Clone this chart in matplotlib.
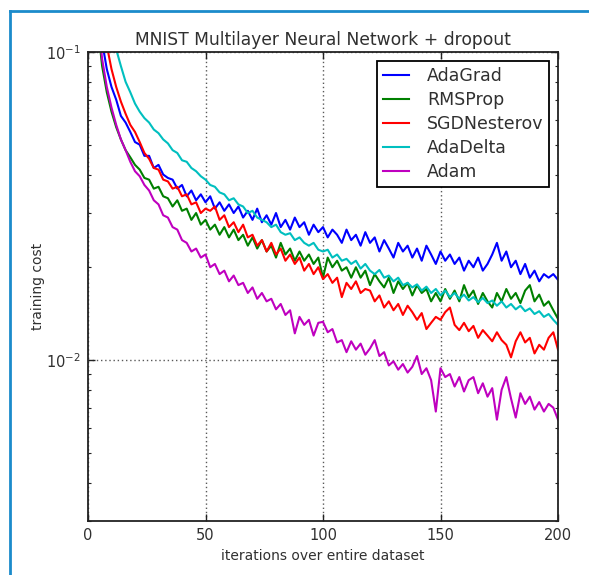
import numpy as np
import matplotlib
matplotlib.use("Agg")
import matplotlib.pyplot as plt
from matplotlib.lines import Line2D
from matplotlib.ticker import NullFormatter, LogLocator

# training cost per iteration (x 1e-3), read every 2nd iteration from 2 to 200
adagrad = [260, 150, 108, 88, 77, 70, 62, 59, 55, 51,
           50, 46, 46, 42, 43, 40, 39, 38.5, 36, 37,
           34, 35.5, 33, 34.5, 32.5, 34, 31, 32.5, 30.5, 32,
           30, 31.5, 29, 30.5, 28.5, 31, 28, 29.5, 27.5, 30,
           27, 28.5, 26.5, 29, 27, 28, 25.5, 27.5, 26, 27,
           25, 26.5, 25.5, 24, 26.5, 24.5, 25.5, 23.5, 26, 24,
           25, 22.5, 24.5, 23, 21.5, 24, 22.5, 23.5, 21.5, 23,
           21, 23.5, 22, 20.5, 22.5, 21, 22, 20.5, 21.5, 19.5,
           21, 20, 21.5, 19.5, 20.5, 22, 24, 21, 22.5, 20,
           21, 19, 20.5, 18.5, 19.5, 18, 19, 18.5, 19, 18.2]
rmsprop = [230, 125, 90, 74, 64, 57, 52, 48, 45.5, 43,
           41.5, 39, 38.5, 36, 36.5, 34, 33.5, 31.5, 33, 30.5,
           31, 28.5, 30, 27.5, 28.5, 26.5, 27.5, 25.5, 27, 25,
           26.5, 24.5, 25.5, 23.5, 25, 23, 24.5, 22.5, 23.5, 21.5,
           24, 22, 23, 21, 22.5, 21, 22, 20.5, 21.5, 18.5,
           21.5, 20, 21, 19.5, 20, 18.5, 20, 18.5, 19.5, 17.5,
           19, 18, 17.2, 18.5, 16.5, 18, 17, 17.8, 16.2, 17.5,
           16.5, 17, 15.5, 16.5, 15.5, 17, 15.8, 16.8, 15.5, 17.5,
           16, 16.8, 15.2, 16.5, 15.5, 14.8, 16.5, 15.5, 17, 15.8,
           16.5, 15.3, 16.8, 17.5, 15.5, 16.3, 15, 15.5, 14.5, 13.6]
sgd_nesterov = [420, 230, 145, 105, 88, 77, 69, 63, 58, 55,
                51, 47, 45, 42, 41.5, 38.5, 38, 36, 36.5, 34,
                34.5, 32, 32.5, 30, 31, 30.5, 31.5, 28.5, 29.5, 27,
                28, 26, 27.5, 25, 25.5, 23.5, 24.5, 22.5, 24, 22,
                23, 21, 22, 20.5, 21.5, 19.5, 20.5, 19, 20, 18.3,
                19, 17.8, 18.5, 16, 17.8, 17, 18, 16.5, 17, 16.8,
                15.5, 16.2, 14.8, 15.5, 14.5, 15.2, 14, 15, 14.3, 13.5,
                14.2, 12.6, 13.2, 13.8, 13.5, 14.3, 14.8, 13, 12.5, 13.2,
                12.4, 12.9, 11.8, 12.5, 12, 11.5, 12.3, 11.6, 11.2, 10.2,
                11.5, 12.3, 11.4, 11.8, 10.5, 11.2, 10.8, 11.8, 12.3, 10.8]
adadelta = [700, 380, 230, 165, 125, 102, 90, 80, 74, 68,
            64, 61, 59, 56, 54.5, 52, 50.5, 48, 47, 44.5,
            44, 42, 41, 39.5, 38.5, 37, 36.5, 35, 34.5, 33,
            33.5, 32, 31.5, 30, 30.5, 29, 28.5, 28, 27, 27.5,
            26, 25.5, 25.8, 24.5, 25, 24, 23.5, 24, 22.8, 22.5,
            22.8, 21.5, 22, 21, 21.3, 20.5, 21, 19.8, 20.5, 19.5,
            19, 19.6, 18.5, 18.8, 18, 18.5, 17.5, 17.8, 17.2, 17.6,
            16.8, 17.3, 16.5, 17, 16.2, 16.8, 16, 16.5, 15.8, 16.3,
            15.6, 16, 15.4, 15.9, 15.3, 15.6, 15, 15.5, 14.8, 15.2,
            14.6, 15, 14.4, 14.7, 14.1, 14.4, 13.8, 14.1, 13.5, 13]
adam = [260, 135, 95, 77, 66, 58, 52, 48, 44, 41,
        39.5, 37, 35.5, 33, 32, 29.5, 29, 27, 26.5, 24.5,
        24, 22.5, 23, 21.5, 22, 20, 20.5, 19, 19.5, 18,
        18.8, 17.5, 17.8, 16.5, 17.2, 15.8, 16.5, 15.5, 15.8, 14.6,
        15.2, 14, 14.5, 12.2, 13.8, 13, 13.5, 12, 13.2, 13.3,
        12.3, 12.6, 11.4, 11.6, 10.6, 11.5, 10.8, 11.3, 10.4, 10.9,
        11.6, 10.3, 10.6, 9.6, 9.9, 9.3, 9.7, 9.1, 9.5, 10.3,
        9, 9.4, 8.6, 6.8, 9.4, 8.8, 9, 8.2, 8.8, 7.9,
        8.6, 8.8, 7.8, 8.4, 7.6, 8.1, 6.4, 8, 8.8, 7.5,
        6.5, 7.8, 7.2, 7.6, 6.9, 7.3, 6.8, 7.2, 7, 6.4]

series = [("AdaGrad", adagrad, "b"),
          ("RMSProp", rmsprop, "g"),
          ("SGDNesterov", sgd_nesterov, "r"),
          ("AdaDelta", adadelta, "c"),
          ("Adam", adam, "m")]

text_color = "#303030"
plt.rcParams["font.family"] = "DejaVu Sans"
plt.rcParams["mathtext.default"] = "regular"

fig = plt.figure(figsize=(5.89, 5.75), dpi=100)
ax = fig.add_axes([0.1494, 0.0939, 0.798, 0.8157])

for name, vals, col in series:
    y = np.array(vals) * 1e-3
    x = np.linspace(2, 200, len(y))
    ax.plot(x, y, color=col, lw=1.5, label=name)

ax.set_yscale("log")
ax.set_xlim(0, 200)
ax.set_ylim(0.003, 0.1)
ax.set_xticks([0, 50, 100, 150, 200])
ax.yaxis.set_minor_locator(LogLocator(subs=np.arange(2, 10)))
ax.yaxis.set_minor_formatter(NullFormatter())
ax.grid(True, which="major", color="0.35", linestyle=(0, (1, 2)), lw=1.0)

ax.tick_params(which="both", direction="in", top=True, right=True,
               labelsize=10.5, labelcolor=text_color, color="#222222")
ax.tick_params(which="major", length=5, width=1.0, pad=5)
ax.tick_params(which="minor", length=2.5, width=0.8)
for sp in ax.spines.values():
    sp.set_linewidth(1.3)
    sp.set_color("#222222")

ax.set_title("MNIST Multilayer Neural Network + dropout", fontsize=12.3,
             color=text_color, pad=5)
ax.set_xlabel("iterations over entire dataset", fontsize=10, color=text_color,
              labelpad=4)
ax.set_ylabel("training cost", fontsize=10, color=text_color, labelpad=1)

leg = ax.legend(loc="upper right", fontsize=12.5, fancybox=False, framealpha=1,
                edgecolor="black", handlelength=1.5, handletextpad=1.0,
                labelspacing=0.35, borderpad=0.35, borderaxespad=0.5)
leg.get_frame().set_linewidth(1.3)
for t in leg.get_texts():
    t.set_color(text_color)

# blue frame on the left and top of the picture
frame_col = "#1b8bcb"
fig.add_artist(Line2D([10 / 589, 10 / 589], [0, 1 - 11 / 575],
                      transform=fig.transFigure, color=frame_col, lw=2))
fig.add_artist(Line2D([10 / 589, 1], [1 - 11 / 575, 1 - 11 / 575],
                      transform=fig.transFigure, color=frame_col, lw=2))

fig.savefig("out.png", dpi=100, facecolor="white")
